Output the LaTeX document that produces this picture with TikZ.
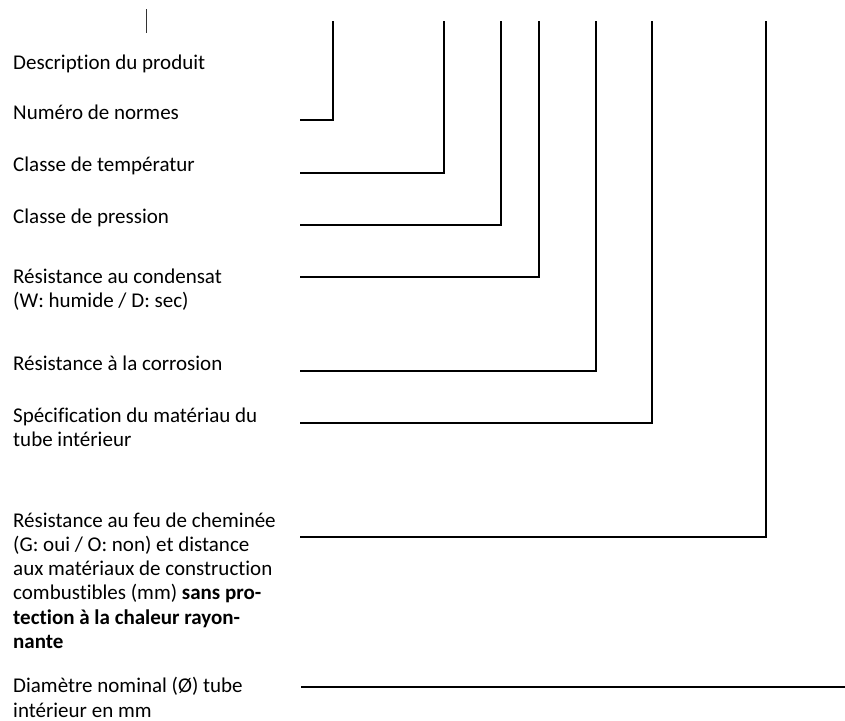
\documentclass[tikz,border=0pt]{standalone}
\usepackage{fontspec}
\setmainfont{Carlito}[Ligatures=NoCommon]
\newcommand\mlines[1]{\begin{tabular}[t]{@{}l@{}}#1\end{tabular}}
\begin{document}
\begin{tikzpicture}[x=1pt,y=-1pt,
  lbl/.style={anchor=base west,inner sep=0pt,font=\fontsize{21}{24.3}\selectfont},
  leader/.style={line width=1.7pt,line cap=rect}]
\useasboundingbox (0,0) rectangle (845,720);
% texts
\node[lbl] (l0) at (13,69) {Description du produit};
\node[lbl] (l1) at (13,119) {Numéro de normes};
\node[lbl] (l2) at (13,171) {Classe de températur};
\node[lbl] (l3) at (13,223) {Classe de pression};
\node[lbl] (l4) at (13,283) {\mlines{Résistance au condensat\\(W: humide / D: sec)}};
\node[lbl] (l5) at (13,370.5) {Résistance à la corrosion};
\node[lbl] (l6) at (13,422.5) {\mlines{Spécification du matériau du\\tube intérieur}};
\node[lbl] (l7) at (13,527) {\mlines{Résistance au feu de cheminée\\(G: oui / O: non) et distance\\aux matériaux de construction\\combustibles (mm) \textbf{sans pro-}\\\textbf{tection à la chaleur rayon-}\\\textbf{nante}}};
\node[lbl] (l8) at (13,692.7) {\mlines{Diamètre nominal (Ø) tube\\intérieur en mm}};
% cursor mark
\coordinate (c0) at (146,9);
\coordinate (c1) at (146,33);
\draw[line width=0.8pt,black!80] (c0) -- (c1);
% leader endpoints
\coordinate (s1) at (301,120);   \coordinate (t1) at (333,22);
\coordinate (s2) at (301,172.7); \coordinate (t2) at (444,22);
\coordinate (s3) at (301,224.7); \coordinate (t3) at (501,22);
\coordinate (s4) at (301,276.7); \coordinate (t4) at (539,22);
\coordinate (s5) at (301,370.7); \coordinate (t5) at (596,22);
\coordinate (s6) at (301,422.7); \coordinate (t6) at (652,22);
\coordinate (s7) at (301,536.7); \coordinate (t7) at (766,22);
\coordinate (s8) at (301,686.7); \coordinate (t8) at (845,686.7);
\draw[leader] (s1) -| (t1);
\draw[leader] (s2) -| (t2);
\draw[leader] (s3) -| (t3);
\draw[leader] (s4) -| (t4);
\draw[leader] (s5) -| (t5);
\draw[leader] (s6) -| (t6);
\draw[leader] (s7) -| (t7);
\draw[line width=1.7pt] (s8) -- (t8);
\end{tikzpicture}
\end{document}
